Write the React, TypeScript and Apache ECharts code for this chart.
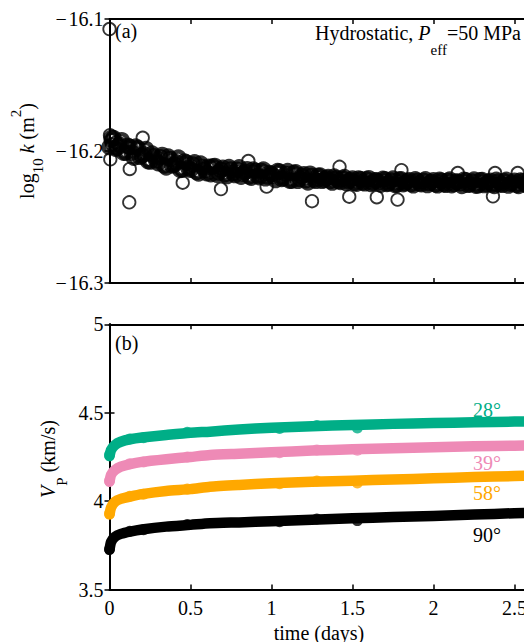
import React, { useEffect, useRef } from "react";
import * as echarts from "echarts";

// ---------- Panel (a): permeability, log10 k (m^2) ----------
// Sampled every kStepDays; the second list is sampled half a step later.
const kStartDay = 0;
const kStepDays = 0.025;
const kBand = [
  -16.1970, -16.1902, -16.1975, -16.1918, -16.2012, -16.1968, -16.2050, -16.1978, -16.2035, -16.1986,
  -16.2080, -16.2040, -16.2092, -16.2030, -16.2124, -16.2060, -16.2104, -16.2050, -16.2139, -16.2088,
  -16.2141, -16.2086, -16.2170, -16.2122, -16.2168, -16.2176, -16.2113, -16.2162, -16.2128, -16.2190,
  -16.2141, -16.2182, -16.2124, -16.2172, -16.2138, -16.2202, -16.2152, -16.2199, -16.2140, -16.2193,
  -16.2175, -16.2220, -16.2156, -16.2206, -16.2152, -16.2225, -16.2161, -16.2211, -16.2176, -16.2238,
  -16.2189, -16.2226, -16.2186, -16.2218, -16.2198, -16.2239, -16.2207, -16.2234, -16.2198, -16.2228,
  -16.2208, -16.2248, -16.2215, -16.2245, -16.2206, -16.2240, -16.2224, -16.2255, -16.2214, -16.2245,
  -16.2209, -16.2254, -16.2214, -16.2244, -16.2221, -16.2260, -16.2226, -16.2252, -16.2214, -16.2243,
  -16.2221, -16.2260, -16.2226, -16.2256, -16.2217, -16.2250, -16.2234, -16.2264, -16.2222, -16.2252,
  -16.2216, -16.2260, -16.2220, -16.2250, -16.2226, -16.2265, -16.2231, -16.2256, -16.2218, -16.2247,
  -16.2225, -16.2264, -16.2230, -16.2259, -16.2220, -16.2253, -16.2236,
];
const kBandHalf = [
  -16.1900, -16.1982, -16.1952, -16.2013, -16.1961, -16.2013, -16.1966, -16.2044, -16.2024, -16.2076,
  -16.2019, -16.2070, -16.2047, -16.2110, -16.2042, -16.2110, -16.2086, -16.2143, -16.2079, -16.2131,
  -16.2102, -16.2159, -16.2095, -16.2144, -16.2119, -16.2117, -16.2179, -16.2143, -16.2175, -16.2122,
  -16.2168, -16.2142, -16.2195, -16.2160, -16.2192, -16.2140, -16.2186, -16.2151, -16.2207, -16.2167,
  -16.2188, -16.2152, -16.2211, -16.2174, -16.2225, -16.2167, -16.2226, -16.2189, -16.2221, -16.2172,
  -16.2217, -16.2188, -16.2226, -16.2206, -16.2227, -16.2194, -16.2226, -16.2208, -16.2243, -16.2221,
  -16.2241, -16.2208, -16.2238, -16.2214, -16.2249, -16.2222, -16.2235, -16.2211, -16.2249, -16.2224,
  -16.2256, -16.2216, -16.2252, -16.2230, -16.2249, -16.2214, -16.2245, -16.2225, -16.2258, -16.2235,
  -16.2253, -16.2219, -16.2249, -16.2225, -16.2259, -16.2232, -16.2244, -16.2219, -16.2256, -16.2231,
  -16.2263, -16.2222, -16.2258, -16.2235, -16.2254, -16.2219, -16.2249, -16.2229, -16.2262, -16.2239,
  -16.2257, -16.2223, -16.2252, -16.2228, -16.2262, -16.2234,
];
const kExtra: [number, number][] = [
  [0, -16.1076], [0.003, -16.188], [0.008, -16.192], [0.015, -16.195], [0.04, -16.1935],
  [0.06, -16.1955], [0.005, -16.2063], [0.125, -16.2136], [0.122, -16.2389], [0.205, -16.19],
  [0.452, -16.224], [0.688, -16.2288], [0.857, -16.2076], [0.97, -16.227], [1.25, -16.238],
  [1.42, -16.212], [1.48, -16.2346], [1.65, -16.235], [1.778, -16.2368], [1.802, -16.2145],
  [2.15, -16.2167], [2.367, -16.2343], [2.38, -16.2167], [2.52, -16.2167],
];

// ---------- Panel (b): P-wave velocity (km/s) ----------
const vpTimes = [0, 0.01, 0.034, 0.07, 0.127, 0.2, 0.35, 0.5, 0.62, 0.8, 1.0, 1.25, 1.5, 1.75, 2.0, 2.25, 2.5, 2.7];
const vp28 = [4.255, 4.29, 4.318, 4.336, 4.35, 4.36, 4.374, 4.387, 4.393, 4.405, 4.415, 4.424, 4.431, 4.437, 4.442, 4.446, 4.45, 4.453];
const vp39 = [4.11, 4.15, 4.176, 4.195, 4.21, 4.222, 4.237, 4.25, 4.261, 4.268, 4.276, 4.286, 4.293, 4.299, 4.305, 4.31, 4.314, 4.317];
const vp58 = [3.925, 3.965, 3.997, 4.013, 4.026, 4.04, 4.058, 4.068, 4.082, 4.092, 4.101, 4.11, 4.116, 4.123, 4.129, 4.136, 4.142, 4.146];
const vp90 = [3.725, 3.77, 3.799, 3.815, 3.828, 3.84, 3.856, 3.866, 3.875, 3.88, 3.886, 3.895, 3.903, 3.91, 3.916, 3.924, 3.932, 3.936];

const bumpTimes = [0, 0.125, 0.21, 0.48, 1.05, 1.28, 1.53];
const bump28 = [4.262, 4.352, 4.359, 4.389, 4.411, 4.428, 4.414];
const bump39 = [4.115, 4.212, 4.221, 4.25, 4.274, 4.29, 4.288];
const bump58 = [3.93, 4.028, 4.039, 4.069, 4.098, 4.114, 4.103];
const bump90 = [3.728, 3.83, 3.839, 3.868, 3.883, 3.899, 3.89];

const angleLabels = ["28°", "39°", "58°", "90°"];
const colors = ["#00AE87", "#EE8AB6", "#FFA800", "#000000"];

const FONT = "Liberation Serif";

export default function App() {
  const ref = useRef<HTMLDivElement>(null);
  useEffect(() => {
    if (!ref.current) return;
    const chart = echarts.init(ref.current, undefined, { renderer: "svg" });

    const bandData = kBand.map((v, i) => [kStartDay + i * kStepDays, v]);
    const bandHalfData = kBandHalf.map((v, i) => [kStartDay + (i + 0.5) * kStepDays, v]);
    const zip = (t: number[], v: number[]) => t.map((x, i) => [x, v[i]]);

    const axisLine = { show: true, lineStyle: { color: "#000", width: 2 } };
    const tick = { show: true, inside: true, length: 5, lineStyle: { color: "#000", width: 1.5 } };
    const lab = { color: "#000", fontSize: 20, fontFamily: FONT };

    const xBase = (grid: number, position: string, showLabel: boolean) => ({
      type: "value",
      gridIndex: grid,
      position,
      min: 0,
      max: 2.6,
      interval: 0.5,
      axisLine,
      axisTick: tick,
      splitLine: { show: false },
      axisLabel: showLabel
        ? { ...lab, margin: 8, showMaxLabel: false }
        : { show: false },
    });
    const yBase = (grid: number, position: string, min: number, max: number, interval: number, fmt: any) => ({
      type: "value",
      gridIndex: grid,
      position,
      min,
      max,
      interval,
      axisLine,
      axisTick: tick,
      splitLine: { show: false },
      axisLabel: fmt ? { ...lab, margin: 6, padding: [6, 0, 0, 0], formatter: fmt } : { show: false },
    });

    const ringStyle = { color: "rgba(0,0,0,0)", borderColor: "#000", borderWidth: 1.8 };
    const bandRing = { color: "rgba(0,0,0,0)", borderColor: "#000", borderWidth: 4.4 };
    const vpSets = [
      [vp28, bump28],
      [vp39, bump39],
      [vp58, bump58],
      [vp90, bump90],
    ];

    const series: any[] = [
      {
        type: "scatter", xAxisIndex: 0, yAxisIndex: 0, data: bandData,
        symbol: "circle", symbolSize: 12, itemStyle: bandRing, clip: false,
      },
      {
        type: "scatter", xAxisIndex: 0, yAxisIndex: 0, data: bandHalfData,
        symbol: "circle", symbolSize: 12, itemStyle: bandRing, clip: false,
      },
      {
        type: "scatter", xAxisIndex: 0, yAxisIndex: 0, data: kExtra,
        symbol: "circle", symbolSize: 12.5, itemStyle: ringStyle, clip: false,
      },
    ];
    vpSets.forEach(([line, bumps], k) => {
      series.push({
        type: "line", xAxisIndex: 2, yAxisIndex: 2, data: zip(vpTimes, line),
        showSymbol: false, smooth: 0.2, clip: false,
        lineStyle: { color: colors[k], width: 10.5, cap: "round", join: "round" },
      });
      series.push({
        type: "scatter", xAxisIndex: 2, yAxisIndex: 2, data: zip(bumpTimes, bumps),
        symbol: "circle", symbolSize: 11, clip: false,
        itemStyle: { color: colors[k] },
      });
    });

    const txt = (x: number, y: number, text: string, fill = "#000", align = "left") => ({
      type: "text",
      x,
      y,
      z: 100,
      style: {
        text,
        fill,
        fontSize: 20,
        fontFamily: FONT,
        textAlign: align,
        align,
        textVerticalAlign: "middle",
        verticalAlign: "middle",
      },
    });

    const richFor = (L: number, subH: number) => ({
      m: { fontSize: 20, fontFamily: FONT, lineHeight: L, verticalAlign: "middle", fill: "#000", color: "#000" },
      i: { fontSize: 20, fontFamily: FONT, fontStyle: "italic", lineHeight: L, verticalAlign: "middle", fill: "#000", color: "#000" },
      s: { fontSize: 15, fontFamily: FONT, lineHeight: subH, verticalAlign: "bottom", fill: "#000", color: "#000" },
      p: { fontSize: 15, fontFamily: FONT, lineHeight: 18, verticalAlign: "top", fill: "#000", color: "#000" },
    });

    const richText = (x: number, y: number, text: string, L: number, align: string, rotation = 0) => ({
      type: "text", x, y, z: 100, rotation,
      style: {
        text,
        rich: richFor(L, 14),
        textAlign: align, align, textVerticalAlign: "middle", verticalAlign: "middle",
        fontSize: 20, fontFamily: FONT, fill: "#000",
      },
    });

    const graphic: any[] = [
      txt(115, 31, "(a)"),
      txt(115, 343, "(b)"),
      richText(315, 33, "{m|Hydrostatic, }{i|P}{s|eff}{m|=50 MPa}", 48, "left"),
      richText(27, 151, "{m|log}{s|10}{m| }{i|k}{m| (m}{p|2}{m|)}", 37, "center", Math.PI / 2),
      richText(48, 459, "{i|V}{s|P}{m| (km/s)}", 42, "center", Math.PI / 2),
      txt(319, 633, "time (days)", "#000", "center"),
      txt(473, 410, angleLabels[0], colors[0]),
      txt(473, 463, angleLabels[1], colors[1]),
      txt(473, 493, angleLabels[2], colors[2]),
      txt(473, 535, angleLabels[3], colors[3]),
    ];

    const minusFmt = (v: number) => v.toFixed(1).replace("-", "\u2212\u200A");
    const plainFmt = (v: number) => String(Math.round(v * 10) / 10);

    chart.setOption({
      animation: false,
      backgroundColor: "#fff",
      grid: [
        { left: 109.5, top: 19, width: 421.2, height: 264, show: false },
        { left: 109.5, top: 324.3, width: 421.2, height: 265.3, show: false },
      ],
      xAxis: [
        xBase(0, "bottom", false),
        xBase(0, "top", false),
        xBase(1, "bottom", true),
        xBase(1, "top", false),
      ],
      yAxis: [
        yBase(0, "left", -16.3, -16.1, 0.1, minusFmt),
        yBase(0, "right", -16.3, -16.1, 0.1, null),
        yBase(1, "left", 3.5, 5, 0.5, plainFmt),
        yBase(1, "right", 3.5, 5, 0.5, null),
      ],
      series,
      graphic,
    });
    return () => chart.dispose();
  }, []);

  return (
    <div style={{ position: "fixed", left: 0, top: 0, width: 524, height: 642, overflow: "hidden", background: "#fff" }}>
      <div ref={ref} style={{ width: 560, height: 642 }} />
    </div>
  );
}
